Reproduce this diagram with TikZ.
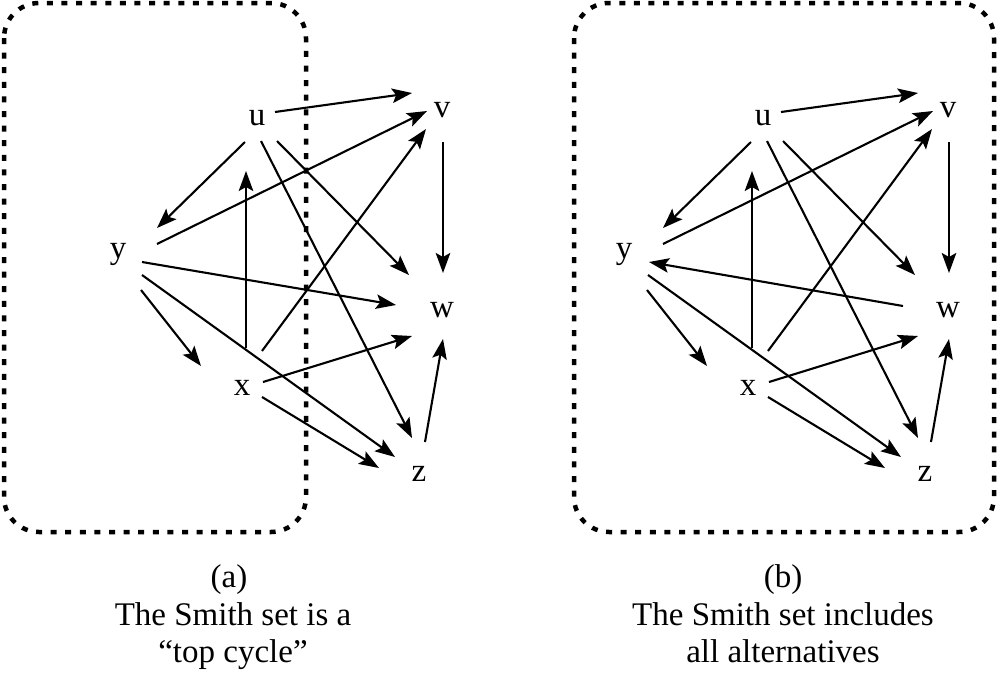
\documentclass[tikz,border=0pt]{standalone}
\usepackage{fontspec}
\setmainfont{Liberation Serif}
\usetikzlibrary{arrows.meta,calc}
\tikzset{
  lbl/.style={inner sep=0pt,font=\fontsize{33}{37}\selectfont},
  captext/.style={inner sep=0pt,anchor=base,font=\fontsize{33}{37}\selectfont},
  arr/.style={line width=2.1pt,-{Stealth[length=20pt,width=14.5pt,inset=4pt]}},
  smithbox/.style={line width=4.5pt,dash pattern=on 6pt off 8.6pt,rounded corners=35pt}
}
\newcommand{\smithpanel}[2]{%
  \node[lbl] (u#1) at ({257+#2},118) {u};
  \node[lbl] (v#1) at ({442+#2},110) {v};
  \node[lbl] (y#1) at ({118+#2},254) {y};
  \node[lbl] (w#1) at ({442+#2},310) {w};
  \node[lbl] (x#1) at ({242+#2},388) {x};
  \node[lbl] (z#1) at ({419+#2},474) {z};
  \draw[arr] ($(u#1)+(18,-6)$) -- ($(v#1)+(-30,-17)$);
  \draw[arr] ($(u#1)+(-12,24)$) -- ($(y#1)+(39,-26)$);
  \draw[arr] ($(y#1)+(39,-10)$) -- ($(v#1)+(-15,1)$);
  \draw[arr] ($(x#1)+(20,-37)$) -- ($(v#1)+(-16,19)$);
  \draw[arr] ($(u#1)+(20,23)$) -- ($(w#1)+(-33,-35)$);
  \draw[arr] ($(v#1)+(1,32)$) -- ($(w#1)+(1,-37)$);
  \draw[arr] ($(x#1)+(4,-40)$) -- ($(u#1)+(-11,53)$);
  \draw[arr] ($(y#1)+(23,36)$) -- ($(x#1)+(-41,-22)$);
  \draw[arr] ($(y#1)+(24,21)$) -- ($(z#1)+(-24,-17)$);
  \draw[arr] ($(u#1)+(4,23)$) -- ($(z#1)+(-7,-36)$);
  \draw[arr] ($(x#1)+(21,-6)$) -- ($(w#1)+(-30,26)$);
  \draw[arr] ($(x#1)+(20,9)$) -- ($(z#1)+(-40,-6)$);
  \draw[arr] ($(z#1)+(6,-32)$) -- ($(w#1)+(1,29)$);
}
\begin{document}
\begin{tikzpicture}[x=1pt,y=-1pt]
  \useasboundingbox (0,0) rectangle (997,675);
  % boxes
  \draw[smithbox] (4,3) rectangle (306,532);
  \draw[smithbox] (574,3) rectangle (994,532);
  % panel (a)
  \smithpanel{a}{0}
  \draw[arr] ($(ya)+(24,8)$) -- ($(wa)+(-46,-5)$);
  % panel (b)
  \smithpanel{b}{506}
  \draw[arr] ($(wb)+(-45,-4)$) -- ($(yb)+(25,8)$);
  % captions
  \node[captext] (ca1) at (229,587) {(a)};
  \node[captext] (ca2) at (233,625) {The Smith set is a};
  \node[captext] (ca3) at (233,662) {“top cycle”};
  \node[captext] (cb1) at (783,587) {(b)};
  \node[captext] (cb2) at (783,625) {The Smith set includes};
  \node[captext] (cb3) at (783,662) {all alternatives};
\end{tikzpicture}
\end{document}
